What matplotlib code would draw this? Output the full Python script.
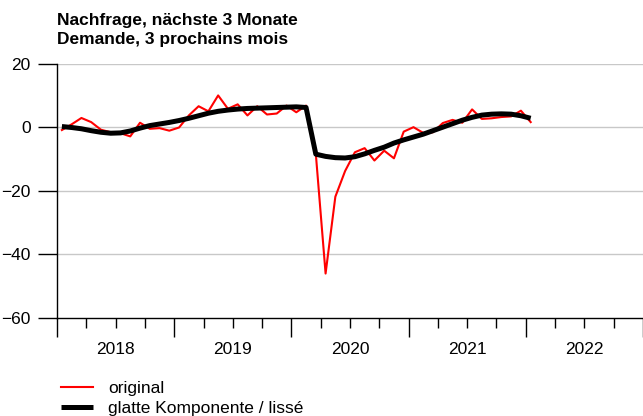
import numpy as np
import matplotlib
matplotlib.use('Agg')
import matplotlib.pyplot as plt
from matplotlib.ticker import MultipleLocator, NullFormatter
import matplotlib.transforms as mtransforms

plt.rcParams['font.family'] = ['Liberation Sans', 'DejaVu Sans']

# monthly values, Jan 2018 .. Jan 2022
original = [-0.8, 1.0, 3.0, 1.7, -0.7, -1.5, -1.8, -2.8, 1.5, -0.4,
            -0.2, -1.0, 0.0, 3.8, 6.7, 5.1, 10.1, 5.9, 7.3, 3.8,
            6.7, 4.1, 4.4, 6.9, 4.8, 6.9, -8.3, -46.0, -21.8, -13.7,
            -7.8, -6.5, -10.4, -7.3, -9.7, -1.3, 0.1, -1.7, -1.5, 1.4,
            2.4, 1.5, 5.7, 2.7, 2.9, 3.3, 3.5, 5.3, 1.7]
smooth = [0.3, 0.0, -0.4, -1.0, -1.5, -1.8, -1.7, -1.1, -0.2, 0.6,
          1.1, 1.6, 2.2, 2.9, 3.7, 4.5, 5.1, 5.5, 5.8, 6.0,
          6.1, 6.2, 6.3, 6.4, 6.5, 6.3, -8.4, -9.1, -9.5, -9.6,
          -9.2, -8.3, -7.2, -6.2, -4.9, -3.9, -3.0, -2.1, -1.0, 0.1,
          1.2, 2.3, 3.2, 3.9, 4.2, 4.3, 4.2, 3.7, 2.9]
years = ['2018', '2019', '2020', '2021', '2022']
yticks = [20, 0, -20, -40, -60]

months = np.arange(len(original)) + 0.5
fs = 12.5

fig = plt.figure(figsize=(6.43, 4.16), dpi=100)
ax = fig.add_axes([57 / 643, 1 - 318 / 416, 586 / 643, 254 / 416])

for y in yticks[:-1]:
    ax.axhline(y, color='#c8c8c8', lw=1.0, zorder=0)

ax.plot(months, original, color='#ff0000', lw=1.5, label='original', zorder=2)
ax.plot(months, smooth, color='black', lw=3.6, label='glatte Komponente / lissé',
        zorder=3, solid_capstyle='butt')

ax.set_xlim(0, 60)
ax.set_ylim(-60, 20)
ax.set_yticks(yticks)
ax.set_yticklabels(['20', '0', '\u221220', '\u221240', '\u221260'])
ax.xaxis.set_major_locator(MultipleLocator(12))
ax.xaxis.set_minor_locator(MultipleLocator(3))
ax.xaxis.set_major_formatter(NullFormatter())
ax.tick_params(axis='x', which='major', length=14, width=1.0)
ax.tick_params(axis='x', which='minor', length=7.5, width=1.0)
ax.tick_params(axis='y', length=14, width=1.0, labelsize=fs, pad=5)

for s in ['top', 'right']:
    ax.spines[s].set_visible(False)
ax.spines['left'].set_linewidth(1.0)
ax.spines['bottom'].set_linewidth(1.0)

trans = mtransforms.blended_transform_factory(ax.transData, fig.transFigure)
for i, yr in enumerate(years):
    ax.text(12 * i + 6, 1 - 349 / 416, yr, transform=trans, ha='center',
            va='center', fontsize=fs)

fig.text(57 / 643, 1 - 13 / 416, 'Nachfrage, nächste 3 Monate\nDemande, 3 prochains mois',
         fontsize=fs, fontweight='bold', va='top', ha='left', linespacing=1.35)

fig.legend(loc='upper left', bbox_to_anchor=(54 / 643, 1 - 374 / 416), frameon=False,
           borderaxespad=0, fontsize=fs, handlelength=1.85, handletextpad=0.86,
           labelspacing=0.3)

fig.savefig('out.png', dpi=100)
